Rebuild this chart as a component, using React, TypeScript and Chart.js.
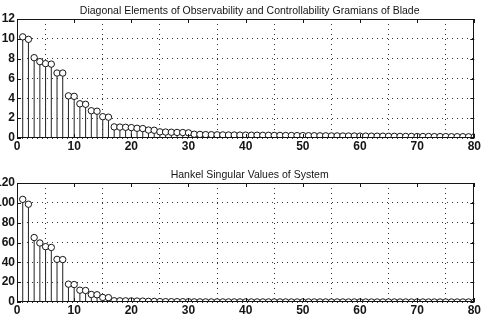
import React, { useEffect, useRef } from "react";
import { Chart, registerables } from "chart.js";

Chart.register(...registerables);

// Mode index 1..80
const modeIndex: number[] = Array.from({ length: 80 }, (_, i) => i + 1);

// Diagonal elements of the balanced observability / controllability gramians
const gramianDiagonal: number[] = [
  10.2, 9.95, 8.1, 7.7, 7.5, 7.45, 6.55, 6.55, 4.25, 4.2,
  3.45, 3.4, 2.75, 2.7, 2.15, 2.1, 1.12, 1.1, 1.08, 1.05,
  0.98, 0.95, 0.8, 0.78, 0.62, 0.6, 0.58, 0.56, 0.55, 0.52,
  0.38, 0.36, 0.34, 0.33, 0.32, 0.31, 0.3, 0.3, 0.29, 0.29,
  0.28, 0.28, 0.27, 0.27, 0.26, 0.26, 0.25, 0.25, 0.24, 0.24,
  0.23, 0.23, 0.22, 0.22, 0.21, 0.21, 0.2, 0.2, 0.2, 0.19,
  0.19, 0.18, 0.18, 0.18, 0.17, 0.17, 0.16, 0.16, 0.16, 0.15,
  0.15, 0.15, 0.14, 0.14, 0.14, 0.13, 0.13, 0.13, 0.12, 0.12,
];

// Hankel singular values of the full system
const hankelValues: number[] = [
  103.5, 98.6, 65, 59.5, 55.8, 55, 43, 42.8, 18, 17.6,
  11.9, 11.6, 7.6, 7.3, 4.6, 4.4, 1.25, 1.2, 1.15, 1.1,
  0.95, 0.9, 0.65, 0.6, 0.4, 0.36, 0.34, 0.32, 0.3, 0.27,
  0.14, 0.13, 0.12, 0.11, 0.1, 0.1, 0.09, 0.09, 0.08, 0.08,
  0.08, 0.07, 0.07, 0.07, 0.06, 0.06, 0.06, 0.06, 0.05, 0.05,
  0.05, 0.05, 0.04, 0.04, 0.04, 0.04, 0.04, 0.03, 0.03, 0.03,
  0.03, 0.03, 0.03, 0.02, 0.02, 0.02, 0.02, 0.02, 0.02, 0.02,
  0.02, 0.01, 0.01, 0.01, 0.01, 0.01, 0.01, 0.01, 0.01, 0.01,
];

const xTicks: number[] = [0, 10, 20, 30, 40, 50, 60, 70, 80];
const topYTicks: number[] = [0, 2, 4, 6, 8, 10, 12];
const bottomYTicks: number[] = [0, 20, 40, 60, 80, 100, 120];

const topTitle = "Diagonal Elements of Observability and Controllability Gramians of Blade";
const bottomTitle = "Hankel Singular Values of System";

const INK = "#151515";
const FONT = "'Liberation Sans', Arial, Helvetica, sans-serif";

// Box around the axes with short inward tick marks, plus the axes title
const framePlugin = {
  id: "frameAndTitle",
  afterDatasetsDraw(chart: any, _args: any, opts: any) {
    const { ctx, chartArea } = chart;
    const { left, right, top, bottom } = chartArea;
    const xs = chart.scales.x;
    const ys = chart.scales.y;
    ctx.save();
    ctx.strokeStyle = INK;
    ctx.lineWidth = 1;
    ctx.strokeRect(Math.round(left) + 0.5, Math.round(top) + 0.5, Math.round(right - left) - 1, Math.round(bottom - top) - 1);
    const len = 4;
    ctx.beginPath();
    for (const t of xs.ticks) {
      const px = Math.round(xs.getPixelForValue(t.value)) + 0.5;
      ctx.moveTo(px, bottom);
      ctx.lineTo(px, bottom - len);
      ctx.moveTo(px, top);
      ctx.lineTo(px, top + len);
    }
    for (const t of ys.ticks) {
      const py = Math.round(ys.getPixelForValue(t.value)) + 0.5;
      ctx.moveTo(left, py);
      ctx.lineTo(left + len, py);
      ctx.moveTo(right, py);
      ctx.lineTo(right - len, py);
    }
    ctx.stroke();
    ctx.fillStyle = INK;
    ctx.font = `10.5px ${FONT}`;
    ctx.textAlign = "center";
    ctx.textBaseline = "alphabetic";
    ctx.fillText(opts.text, (left + right) / 2 + 4, top - 5);
    ctx.restore();
  },
};

type PanelProps = {
  title: string;
  values: number[];
  yTicks: number[];
  height: number;
  top: number;
  padTop: number;
  xAxisHeight: number;
};

function StemPanel({ title, values, yTicks, height, top, padTop, xAxisHeight }: PanelProps) {
  const ref = useRef<HTMLCanvasElement | null>(null);

  useEffect(() => {
    if (!ref.current) return;
    const pts = modeIndex.map((m, i) => ({ x: m, y: values[i] }));
    const yMin = yTicks[0];
    const yMax = yTicks[yTicks.length - 1];
    const yStep = yTicks[1] - yTicks[0];
    const chart = new Chart(ref.current, {
      type: "bar",
      data: {
        datasets: [
          {
            type: "line",
            data: pts,
            showLine: false,
            pointRadius: 3.2,
            pointHoverRadius: 3.2,
            pointBackgroundColor: "#ffffff",
            pointBorderColor: INK,
            pointBorderWidth: 1,
            order: 0,
          } as any,
          {
            type: "bar",
            data: pts,
            backgroundColor: "#222",
            borderWidth: 0,
            barThickness: 1,
            inflateAmount: 0,
            order: 1,
          } as any,
        ],
      },
      options: {
        responsive: false,
        animation: false,
        events: [],
        layout: { padding: { top: padTop, right: 5, left: 0, bottom: 0 } },
        plugins: {
          legend: { display: false },
          tooltip: { enabled: false },
          frameAndTitle: { text: title },
        } as any,
        scales: {
          x: {
            type: "linear",
            min: xTicks[0],
            max: xTicks[xTicks.length - 1],
            offset: false,
            afterFit: (s: any) => {
              s.height = xAxisHeight;
            },
            afterBuildTicks: (s: any) => {
              s.ticks = xTicks.map((v) => ({ value: v }));
            },
            ticks: {
              color: INK,
              font: { family: FONT, size: 12, weight: "bold" },
              padding: 1,
              maxRotation: 0,
              autoSkip: false,
            },
            grid: { color: "#333", lineWidth: 1, drawTicks: false },
            border: { display: false, dash: [1, 4] },
          },
          y: {
            type: "linear",
            min: yMin,
            max: yMax,
            afterFit: (s: any) => {
              s.width = 17;
            },
            ticks: {
              stepSize: yStep,
              color: INK,
              font: { family: FONT, size: 12, weight: "bold" },
              padding: 2,
            },
            grid: { color: "#333", lineWidth: 1, drawTicks: false },
            border: { display: false, dash: [1, 4] },
          },
        },
      } as any,
      plugins: [framePlugin],
    });
    return () => chart.destroy();
  }, [title, values, yTicks, padTop, xAxisHeight]);

  return (
    <canvas
      ref={ref}
      width={482}
      height={height}
      style={{ position: "absolute", left: 0, top, width: 482, height }}
    />
  );
}

export default function App() {
  return (
    <div style={{ position: "absolute", left: 0, top: 0, width: 482, height: 335, background: "#fff", overflow: "hidden" }}>
      <StemPanel title={topTitle} values={gramianDiagonal} yTicks={topYTicks} height={160} top={0} padTop={19} xAxisHeight={22} />
      <StemPanel title={bottomTitle} values={hankelValues} yTicks={bottomYTicks} height={175} top={160} padTop={23} xAxisHeight={33} />
    </div>
  );
}
